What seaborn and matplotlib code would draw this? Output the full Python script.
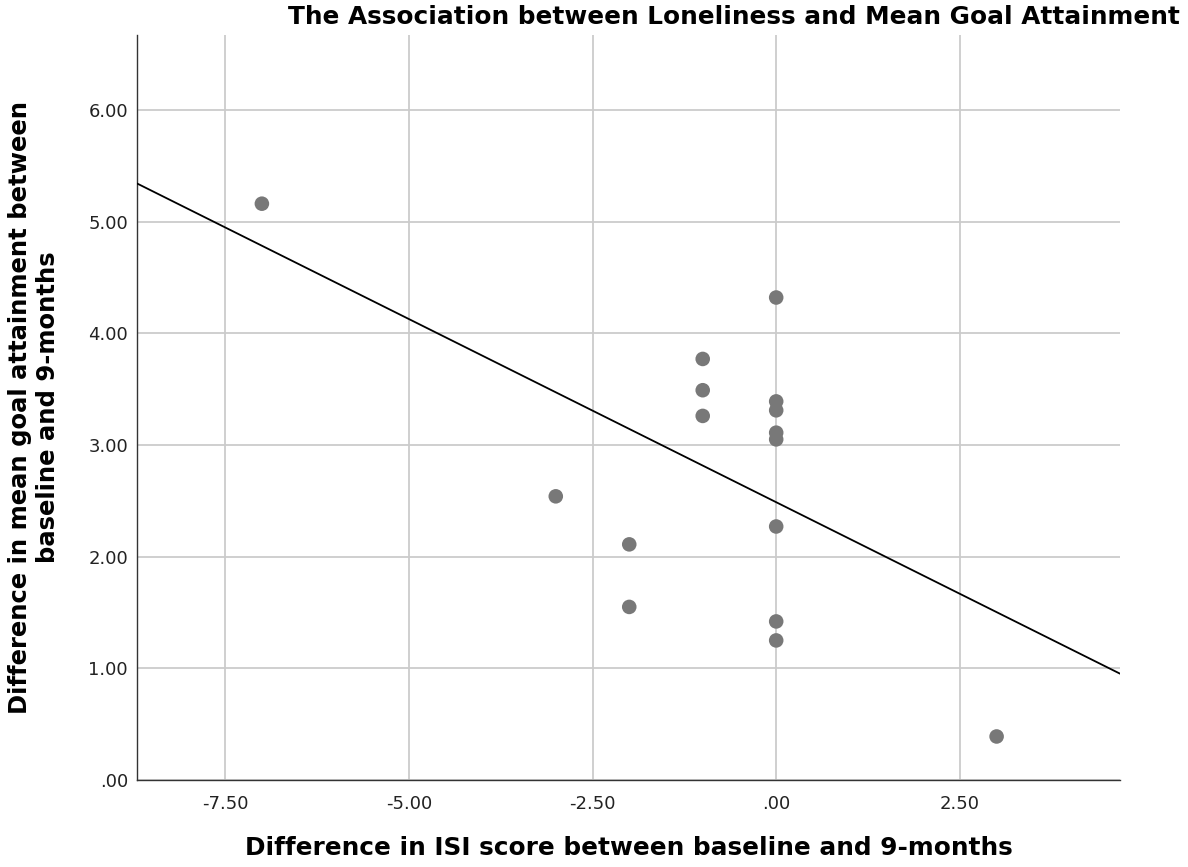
import numpy as np
import pandas as pd
import matplotlib
matplotlib.use('Agg')
import matplotlib.pyplot as plt
from matplotlib.ticker import FuncFormatter
import seaborn as sns

# values
isi_diff = [-7, -3, -2, -2, -1, -1, -1, 0, 0, 0, 0, 0, 0, 0, 0, 3]
goal_diff = [5.16, 2.54, 2.11, 1.55, 3.77, 3.49, 3.26,
             4.32, 3.39, 3.31, 3.11, 3.05, 2.27, 1.42, 1.25, 0.39]
x_ticks = [-7.5, -5.0, -2.5, 0.0, 2.5]
y_ticks = [0, 1, 2, 3, 4, 5, 6]

df = pd.DataFrame({'isi': isi_diff, 'goal': goal_diff})

sns.set_style('white')
plt.rcParams['text.color'] = 'black'
plt.rcParams['axes.labelcolor'] = 'black'

fig = plt.figure(figsize=(11.88, 8.67), dpi=100)
ax = fig.add_axes([0.1153, 0.1003, 0.8275, 0.8593])

ax.set_xlim(-8.70, 4.68)
ax.set_ylim(0, 6.67)

# points
sns.scatterplot(data=df, x='isi', y='goal', ax=ax, s=110, color='#787878',
                edgecolor='none', zorder=3, legend=False)
# fit line across the whole x range (SPSS "fit line at total")
sns.regplot(data=df, x='isi', y='goal', ax=ax, scatter=False, ci=None,
            truncate=False, line_kws=dict(color='black', lw=1.3, zorder=4))

ax.set_xlim(-8.70, 4.68)
ax.set_ylim(0, 6.67)
ax.set_xticks(x_ticks)
ax.set_yticks(y_ticks)

def spss_fmt(v, pos):
    s = f'{v:.2f}'
    if s.startswith('0.'):
        s = s[1:]
    if s.startswith('-0.'):
        s = '-' + s[2:]
    return s

ax.xaxis.set_major_formatter(FuncFormatter(spss_fmt))
ax.yaxis.set_major_formatter(FuncFormatter(spss_fmt))
ax.tick_params(axis='both', length=0, labelsize=13, colors='#222222')
ax.tick_params(axis='y', pad=6.5)
ax.tick_params(axis='x', pad=11)

ax.grid(True, color='#cbcbcb', lw=1.3)
ax.set_axisbelow(True)
for side in ['top', 'right']:
    ax.spines[side].set_visible(False)
for side in ['left', 'bottom']:
    ax.spines[side].set_color('#333333')
    ax.spines[side].set_linewidth(1.0)

ax.set_xlabel('Difference in ISI score between baseline and 9-months',
              fontsize=17.8, fontweight='bold', labelpad=16)
ax.set_ylabel('Difference in mean goal attainment between\nbaseline and 9-months',
              fontsize=17.5, fontweight='bold', labelpad=20, linespacing=1.25)

fig.text(0.993, 0.994, 'The Association between Loneliness and Mean Goal Attainment',
         ha='right', va='top', fontsize=17.8, fontweight='bold')

fig.savefig('out.png', dpi=100)
